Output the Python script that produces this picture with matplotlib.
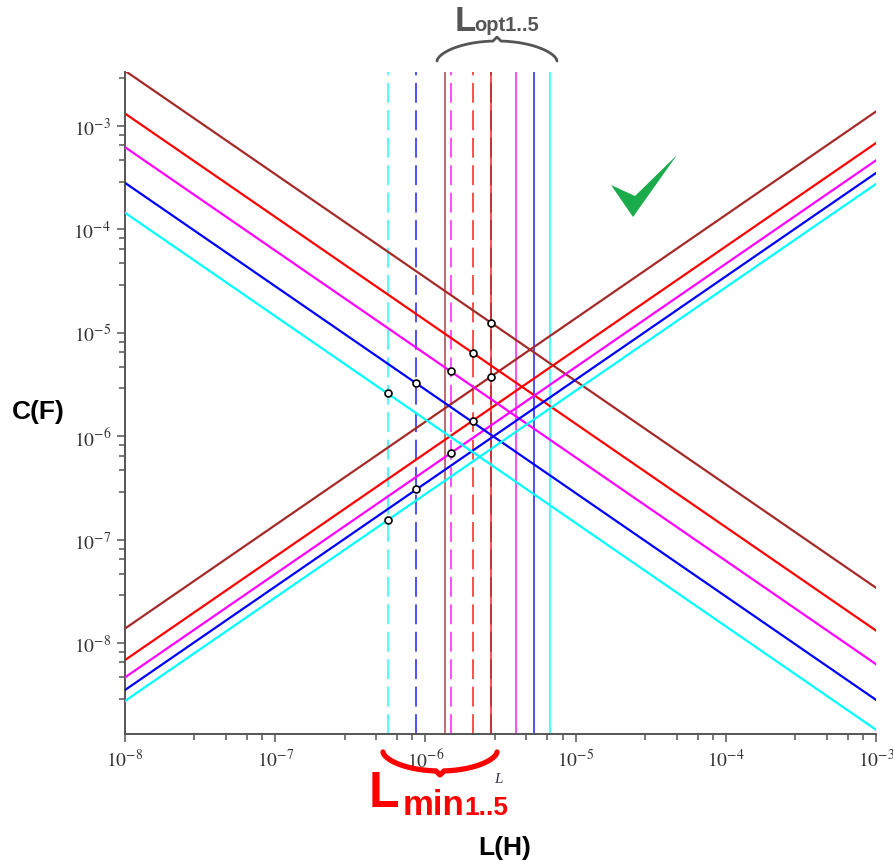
import numpy as np
import matplotlib
matplotlib.use("Agg")
import matplotlib.pyplot as plt
from matplotlib.ticker import FixedLocator, FuncFormatter, NullFormatter

plt.rcParams['font.family'] = ['Liberation Sans', 'DejaVu Sans']
plt.rcParams['mathtext.fontset'] = 'stix'

# five circuits
colors = ['#a52a2a', '#ff0000', '#ff00ff', '#0000ff', '#00ffff']
# falling lines: C = k_down / L
k_down = [3.42e-11, 1.32e-11, 6.24e-12, 2.82e-12, 1.45e-12]
# rising lines: C = k_up * L
k_up = [1.38, 0.684, 0.465, 0.351, 0.275]
# vertical markers (H)
L_min = [2.72e-6, 2.06e-6, 1.47e-6, 8.7e-7, 5.6e-7]
L_opt = [1.36e-6, 2.72e-6, 4.04e-6, 5.32e-6, 6.8e-6]

x_range = (1e-8, 1e-3)
y_range = (10 ** -8.88, 10 ** -2.478)
minor_mult = [2.9, 4.7, 6.5, 8.2]

W, H = 893, 862
fig = plt.figure(figsize=(W / 100, H / 100), dpi=100)
ax = fig.add_axes([125 / W, 1 - 735 / H, 751 / W, 662 / H])
ax.set_xscale('log')
ax.set_yscale('log')
ax.set_xlim(*x_range)
ax.set_ylim(*y_range)

L = np.logspace(-8, -3, 200)
for c, kd, ku in zip(colors, k_down, k_up):
    ax.plot(L, kd / L, color=c, lw=1.6, zorder=3)
    ax.plot(L, ku * L, color=c, lw=1.6, zorder=3)

dash = (0, (11, 4.2))
for c, lo in zip(colors, L_opt):
    ax.axvline(lo, color=c, lw=1.3, alpha=0.75, zorder=2)
for c, lm in zip(colors, L_min):
    ax.axvline(lm, color=c, lw=1.3, alpha=0.75, ls=dash, zorder=2.5)

for c, kd, ku, lm in zip(colors, k_down, k_up, L_min):
    ax.plot([lm, lm], [kd / lm, ku * lm], 'o', ms=5, mfc='white',
            mec='black', mew=1.2, zorder=5)

# axes look
for s in ['top', 'right']:
    ax.spines[s].set_visible(False)
for s in ['left', 'bottom']:
    ax.spines[s].set_color('#555555')
    ax.spines[s].set_linewidth(1.4)

dec = range(-9, -1)
ax.xaxis.set_major_locator(FixedLocator([10.0 ** d for d in dec]))
ax.yaxis.set_major_locator(FixedLocator([10.0 ** d for d in dec]))
minors = [m * 10.0 ** d for d in range(-10, -1) for m in minor_mult]
ax.xaxis.set_minor_locator(FixedLocator(minors))
ax.yaxis.set_minor_locator(FixedLocator(minors))
fmt = FuncFormatter(lambda v, p: r'$10^{%d}$' % round(np.log10(v)))
ax.xaxis.set_major_formatter(fmt)
ax.yaxis.set_major_formatter(fmt)
ax.xaxis.set_minor_formatter(NullFormatter())
ax.yaxis.set_minor_formatter(NullFormatter())
ax.tick_params(which='major', length=6, width=1.1, color='#555555',
               labelsize=14, labelcolor='#333333', pad=4)
ax.tick_params(which='minor', length=4, width=1.1, color='#555555')
ax.tick_params(axis='x', which='major', pad=4)

# annotation layer in pixel space
ov = fig.add_axes([0, 0, 1, 1], zorder=10)
ov.set_xlim(0, W)
ov.set_ylim(H, 0)
ov.axis('off')
ov.patch.set_alpha(0)


def brace(x0, x1, y_end, y_mid, notch, color, lw):
    xs = np.linspace(x0, x1, 300)
    xc = (x0 + x1) / 2
    hw = (x1 - x0) / 2
    t = (xs - xc) / hw
    ys = y_end + (y_mid - y_end) * (1 - t ** 2) ** 0.6
    ys = ys + notch * np.clip(1 - np.abs(xs - xc) / 4, 0, None)
    ov.plot(xs, ys, color=color, lw=lw, solid_capstyle='round')


brace(437, 557, 62, 42, -4, '#555555', 2.0)
brace(383, 497, 753, 772, 4, '#ff0000', 3.8)

ov.text(455, 31, 'L', fontsize=25, fontweight='bold', color='#555555')
ov.text(474, 31, 'opt1..5', fontsize=14.5, fontweight='bold', color='#555555')
ov.text(369, 807, 'L', fontsize=36, fontweight='bold', color='#ff0000')
ov.text(403, 815, 'min', fontsize=25, fontweight='bold', color='#ff0000')
ov.text(464, 815, '1..5', fontsize=19, fontweight='bold', color='#ff0000')

ov.text(12, 419, 'C(F)', fontsize=19, fontweight='bold', color='black')
ov.text(478, 855, 'L(H)', fontsize=19, fontweight='bold', color='black')
ov.text(494, 783, 'L', fontsize=11, color='#333355', family='Liberation Serif',
        style='italic')

ov.add_patch(plt.Polygon([(611, 186), (635, 197), (677, 156), (633, 218)],
                         closed=True, color='#1aab4b', lw=0))

fig.savefig('out.png', dpi=100)
